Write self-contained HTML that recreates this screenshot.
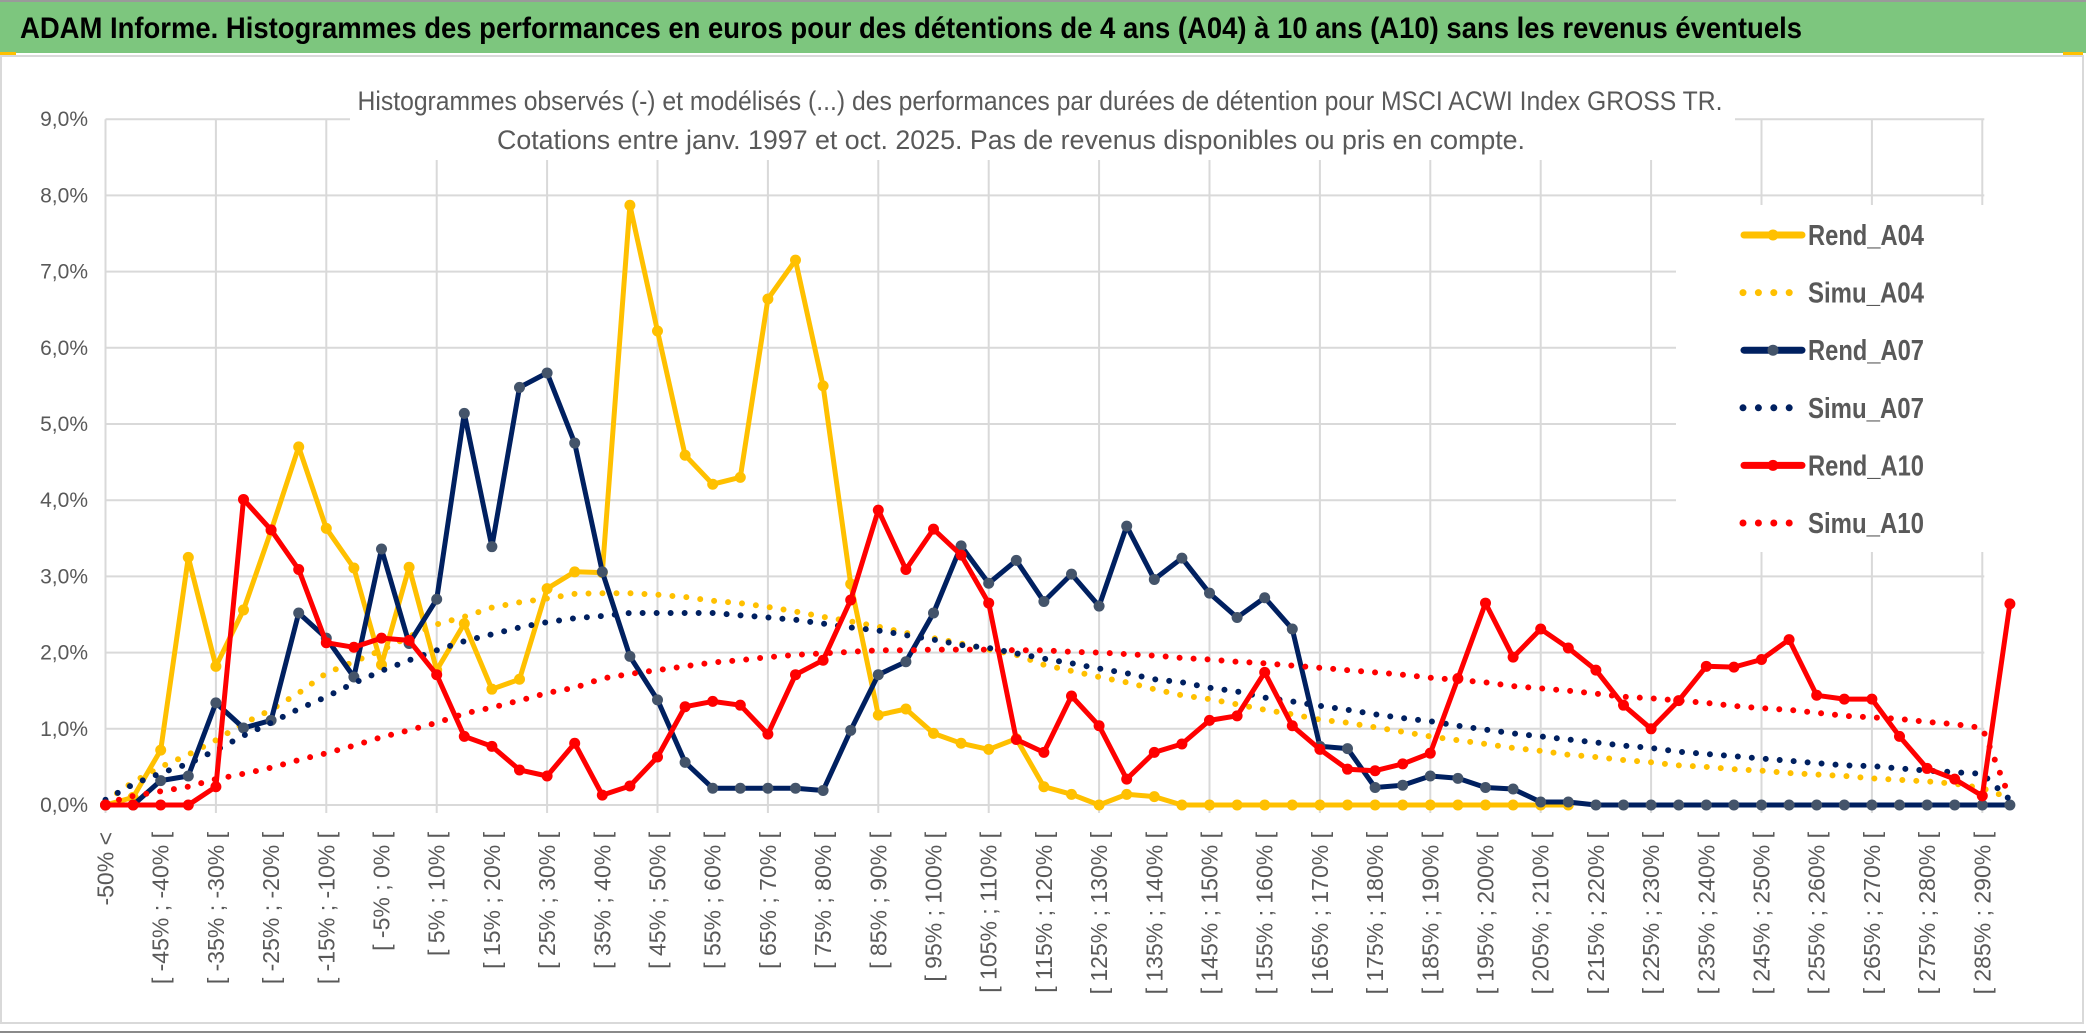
<!DOCTYPE html>
<html><head><meta charset="utf-8">
<style>
html,body{margin:0;padding:0;background:#fff;}
svg{display:block;font-family:"Liberation Sans",sans-serif;}
</style></head>
<body>
<svg id="chart" width="2086" height="1033" viewBox="0 0 2086 1033" xmlns="http://www.w3.org/2000/svg">
  <rect x="0" y="0" width="2086" height="1033" fill="#fff"/>
  <rect x="0" y="0" width="2086" height="2" fill="#9a9a9a"/>
  <rect x="0" y="2" width="2086" height="51" fill="#7dc67e"/>
  <text x="20" y="38" font-size="30" font-weight="bold" fill="#000" textLength="1782" lengthAdjust="spacingAndGlyphs">ADAM Informe. Histogrammes des performances en euros pour des détentions de 4 ans (A04) à 10 ans (A10) sans les revenus éventuels</text>
  <rect x="0" y="52" width="16" height="3" fill="#ffc000"/>
  <rect x="2063" y="52" width="20" height="3" fill="#ffc000"/>
  <rect x="2080" y="52" width="3" height="18" fill="#ffc000"/>
  <rect x="1" y="56" width="2082" height="967" fill="#fff" stroke="#d9d9d9" stroke-width="2"/>
  <rect x="0" y="1031" width="2086" height="2" fill="#8a8a8a"/>
  <g id="grid"></g>
  <g id="ylabels"></g>
  <g id="xlabels"></g>
  <rect x="350" y="78" width="1385" height="82" fill="#fff"/>
  <text x="1040" y="110" font-size="27" fill="#595959" text-anchor="middle" textLength="1365" lengthAdjust="spacingAndGlyphs">Histogrammes observés (-) et modélisés (...) des performances par durées de détention pour MSCI ACWI Index GROSS TR.</text>
  <text x="1011" y="149" font-size="27" fill="#595959" text-anchor="middle" textLength="1028" lengthAdjust="spacingAndGlyphs">Cotations entre janv. 1997 et oct. 2025. Pas de revenus disponibles ou pris en compte.</text>
  <g id="series"></g>
  <rect x="1676" y="205" width="312" height="347" fill="#fff"/>
  <g id="legend"></g>
</svg>
<script>
// ---- data ----
const categoryLows = [];
for (let i = -50; i < 295; i += 5) categoryLows.push(i);
const yTicks = [0, 1, 2, 3, 4, 5, 6, 7, 8, 9];
const seriesNames = ["Rend_A04", "Simu_A04", "Rend_A07", "Simu_A07", "Rend_A10", "Simu_A10"];
const rendA04 = [0,0.1,0.72,3.25,1.82,2.56,3.6,4.70,3.63,3.11,1.84,3.12,1.77,2.38,1.52,1.65,2.84,3.06,3.05,7.87,6.22,4.59,4.21,4.30,6.64,7.15,5.5,2.9,1.18,1.26,0.94,0.81,0.73,0.87,0.24,0.14,0,0.14,0.11,0,0,0,0,0,0,0,0,0,0,0,0,0,0,0,null,null,null,null,null,null,null,null,null,null,null,null,null,null,null,null];
const simuA04 = [0.05,0.3,0.5,0.66,0.85,1.07,1.25,1.47,1.73,1.88,2.03,2.21,2.37,2.47,2.59,2.66,2.71,2.77,2.78,2.78,2.76,2.73,2.68,2.65,2.60,2.54,2.47,2.41,2.34,2.26,2.19,2.12,2.04,1.97,1.84,1.76,1.68,1.61,1.52,1.44,1.39,1.32,1.25,1.19,1.12,1.08,1.02,0.96,0.90,0.85,0.80,0.75,0.71,0.66,0.63,0.59,0.56,0.52,0.50,0.47,0.45,0.42,0.40,0.38,0.35,0.33,0.31,0.28,0.22,0.09];
const rendA07 = [0,0,0.32,0.38,1.34,1.01,1.11,2.52,2.19,1.68,3.36,2.12,2.70,5.14,3.39,5.48,5.67,4.75,3.06,1.95,1.38,0.56,0.22,0.22,0.22,0.22,0.19,0.98,1.71,1.88,2.52,3.40,2.91,3.21,2.67,3.03,2.61,3.66,2.96,3.24,2.78,2.46,2.72,2.31,0.77,0.74,0.23,0.26,0.38,0.35,0.23,0.21,0.04,0.04,0,0,0,0,0,0,0,0,0,0,0,0,0,0,0,0];
const simuA07 = [0.07,0.27,0.42,0.54,0.72,0.91,1.08,1.26,1.42,1.60,1.76,1.90,2.03,2.15,2.24,2.33,2.40,2.45,2.48,2.52,2.52,2.52,2.52,2.49,2.46,2.43,2.38,2.33,2.29,2.23,2.17,2.10,2.06,1.99,1.92,1.86,1.79,1.73,1.65,1.61,1.54,1.49,1.41,1.36,1.30,1.25,1.19,1.14,1.10,1.04,0.99,0.94,0.90,0.86,0.82,0.78,0.75,0.70,0.67,0.64,0.61,0.58,0.55,0.52,0.51,0.48,0.45,0.43,0.41,0.07];
const rendA10 = [0,0,0,0,0.24,4.01,3.61,3.09,2.13,2.07,2.19,2.16,1.71,0.90,0.77,0.46,0.38,0.81,0.13,0.25,0.63,1.29,1.36,1.31,0.93,1.71,1.90,2.69,3.87,3.09,3.62,3.28,2.65,0.86,0.69,1.43,1.04,0.34,0.69,0.80,1.11,1.17,1.74,1.04,0.73,0.47,0.45,0.54,0.68,1.66,2.65,1.94,2.31,2.06,1.77,1.31,1.00,1.37,1.82,1.81,1.91,2.17,1.44,1.39,1.39,0.90,0.48,0.34,0.12,2.64];
const simuA10 = [0.02,0.12,0.18,0.24,0.34,0.41,0.49,0.59,0.68,0.78,0.89,0.98,1.08,1.20,1.28,1.37,1.47,1.54,1.66,1.72,1.77,1.82,1.87,1.90,1.94,1.97,1.99,2.01,2.03,2.03,2.04,2.04,2.04,2.03,2.03,2.01,2.00,1.98,1.96,1.93,1.91,1.88,1.86,1.83,1.80,1.77,1.74,1.71,1.67,1.64,1.61,1.56,1.53,1.50,1.46,1.42,1.40,1.37,1.34,1.30,1.27,1.25,1.21,1.17,1.15,1.13,1.09,1.06,1.01,0.09];

// ---- layout ----
const NS = "http://www.w3.org/2000/svg";
const X0 = 105.5, STEP = 27.6, Y0 = 805, YUNIT = 76.2;
const n = categoryLows.length;
function xPos(i) { return X0 + i * STEP; }
function yPos(v) { return Y0 - v * YUNIT; }
function mk(tag, attrs, parent) {
  const e = document.createElementNS(NS, tag);
  for (const k in attrs) e.setAttribute(k, attrs[k]);
  parent.appendChild(e);
  return e;
}
function catLabel(i) {
  if (i === 0) return "-50% <";
  const lo = categoryLows[i - 1], hi = lo + 5;
  return "[ " + lo + "% ; " + hi + "% [";
}
const xRight = xPos(n - 1) + 2;

// gridlines
const grid = document.getElementById("grid");
yTicks.forEach(t => {
  const l = mk("line", {x1: X0, x2: xRight, y1: yPos(t), y2: yPos(t), stroke: "#d9d9d9", "stroke-width": 2}, grid);
  
  
});
for (let i = 0; i < n; i += 4) {
  const l = mk("line", {x1: xPos(i), x2: xPos(i), y1: yPos(yTicks[yTicks.length - 1]), y2: Y0 + 8, stroke: "#d9d9d9", "stroke-width": 2}, grid);
  
  
}

// y labels
const yl = document.getElementById("ylabels");
yTicks.forEach(t => {
  const tx = mk("text", {x: 88, y: yPos(t) + 7, "font-size": 21, fill: "#595959", "text-anchor": "end"}, yl);
  tx.textContent = t.toFixed(1).replace(".", ",") + "%";
  
  
});

// x labels
const xl = document.getElementById("xlabels");
for (let i = 0; i < n; i += 2) {
  const x = xPos(i) + 8, y = 832;
  const tx = mk("text", {x: x, y: y, "font-size": 23, fill: "#595959", "text-anchor": "end", transform: "rotate(-90 " + x + " " + y + ")"}, xl);
  tx.textContent = catLabel(i);
  
  
}

// series
const sg = document.getElementById("series");
function drawLine(vals, color, markerColor, name) {
  const g = mk("g", {}, sg);
  
  
  let d = "", pen = false;
  vals.forEach((v, i) => {
    if (v === null) { pen = false; return; }
    d += (pen ? "L" : "M") + xPos(i).toFixed(1) + " " + yPos(v).toFixed(1);
    pen = true;
  });
  const p = mk("path", {d: d, fill: "none", stroke: color, "stroke-width": 5, "stroke-linejoin": "round"}, g);
  
  
  vals.forEach((v, i) => {
    if (v === null) return;
    const c = mk("circle", {cx: xPos(i), cy: yPos(v), r: 5.5, fill: markerColor}, g);
    
    
  });
}
function drawDots(vals, color, name) {
  let d = "";
  vals.forEach((v, i) => { d += (i ? "L" : "M") + xPos(i).toFixed(1) + " " + yPos(v).toFixed(1); });
  const p = mk("path", {d: d, fill: "none", stroke: color, "stroke-width": 6, "stroke-linecap": "round", "stroke-dasharray": "0 14"}, sg);
  
  
}
drawLine(rendA04, "#ffc000", "#ffc000", "rend-a04");
drawDots(simuA04, "#ffc000", "simu-a04");
drawLine(rendA07, "#002060", "#44546a", "rend-a07");
drawDots(simuA07, "#002060", "simu-a07");
drawLine(rendA10, "#ff0000", "#ff0000", "rend-a10");
drawDots(simuA10, "#ff0000", "simu-a10");

// legend
const lg = document.getElementById("legend");
const legColors = ["#ffc000", "#ffc000", "#002060", "#002060", "#ff0000", "#ff0000"];
const legMarker = ["#ffc000", "#ffc000", "#44546a", "#44546a", "#ff0000", "#ff0000"];
seriesNames.forEach((nm, k) => {
  const y = 235 + k * 57.6;
  const g = mk("g", {}, lg);
  
  
  if (k % 2 === 0) {
    mk("line", {x1: 1744, x2: 1802, y1: y, y2: y, stroke: legColors[k], "stroke-width": 7, "stroke-linecap": "round"}, g);
    mk("circle", {cx: 1773, cy: y, r: 5.5, fill: legMarker[k]}, g);
  } else {
    mk("line", {x1: 1743, x2: 1790, y1: y, y2: y, stroke: legColors[k], "stroke-width": 7, "stroke-linecap": "round", "stroke-dasharray": "0 15.4"}, g);
  }
  const t = mk("text", {x: 1808, y: y + 10, "font-size": 29, fill: "#595959", "font-weight": "bold", textLength: 116, lengthAdjust: "spacingAndGlyphs"}, g);
  t.textContent = nm;
});
</script>
</body></html>
